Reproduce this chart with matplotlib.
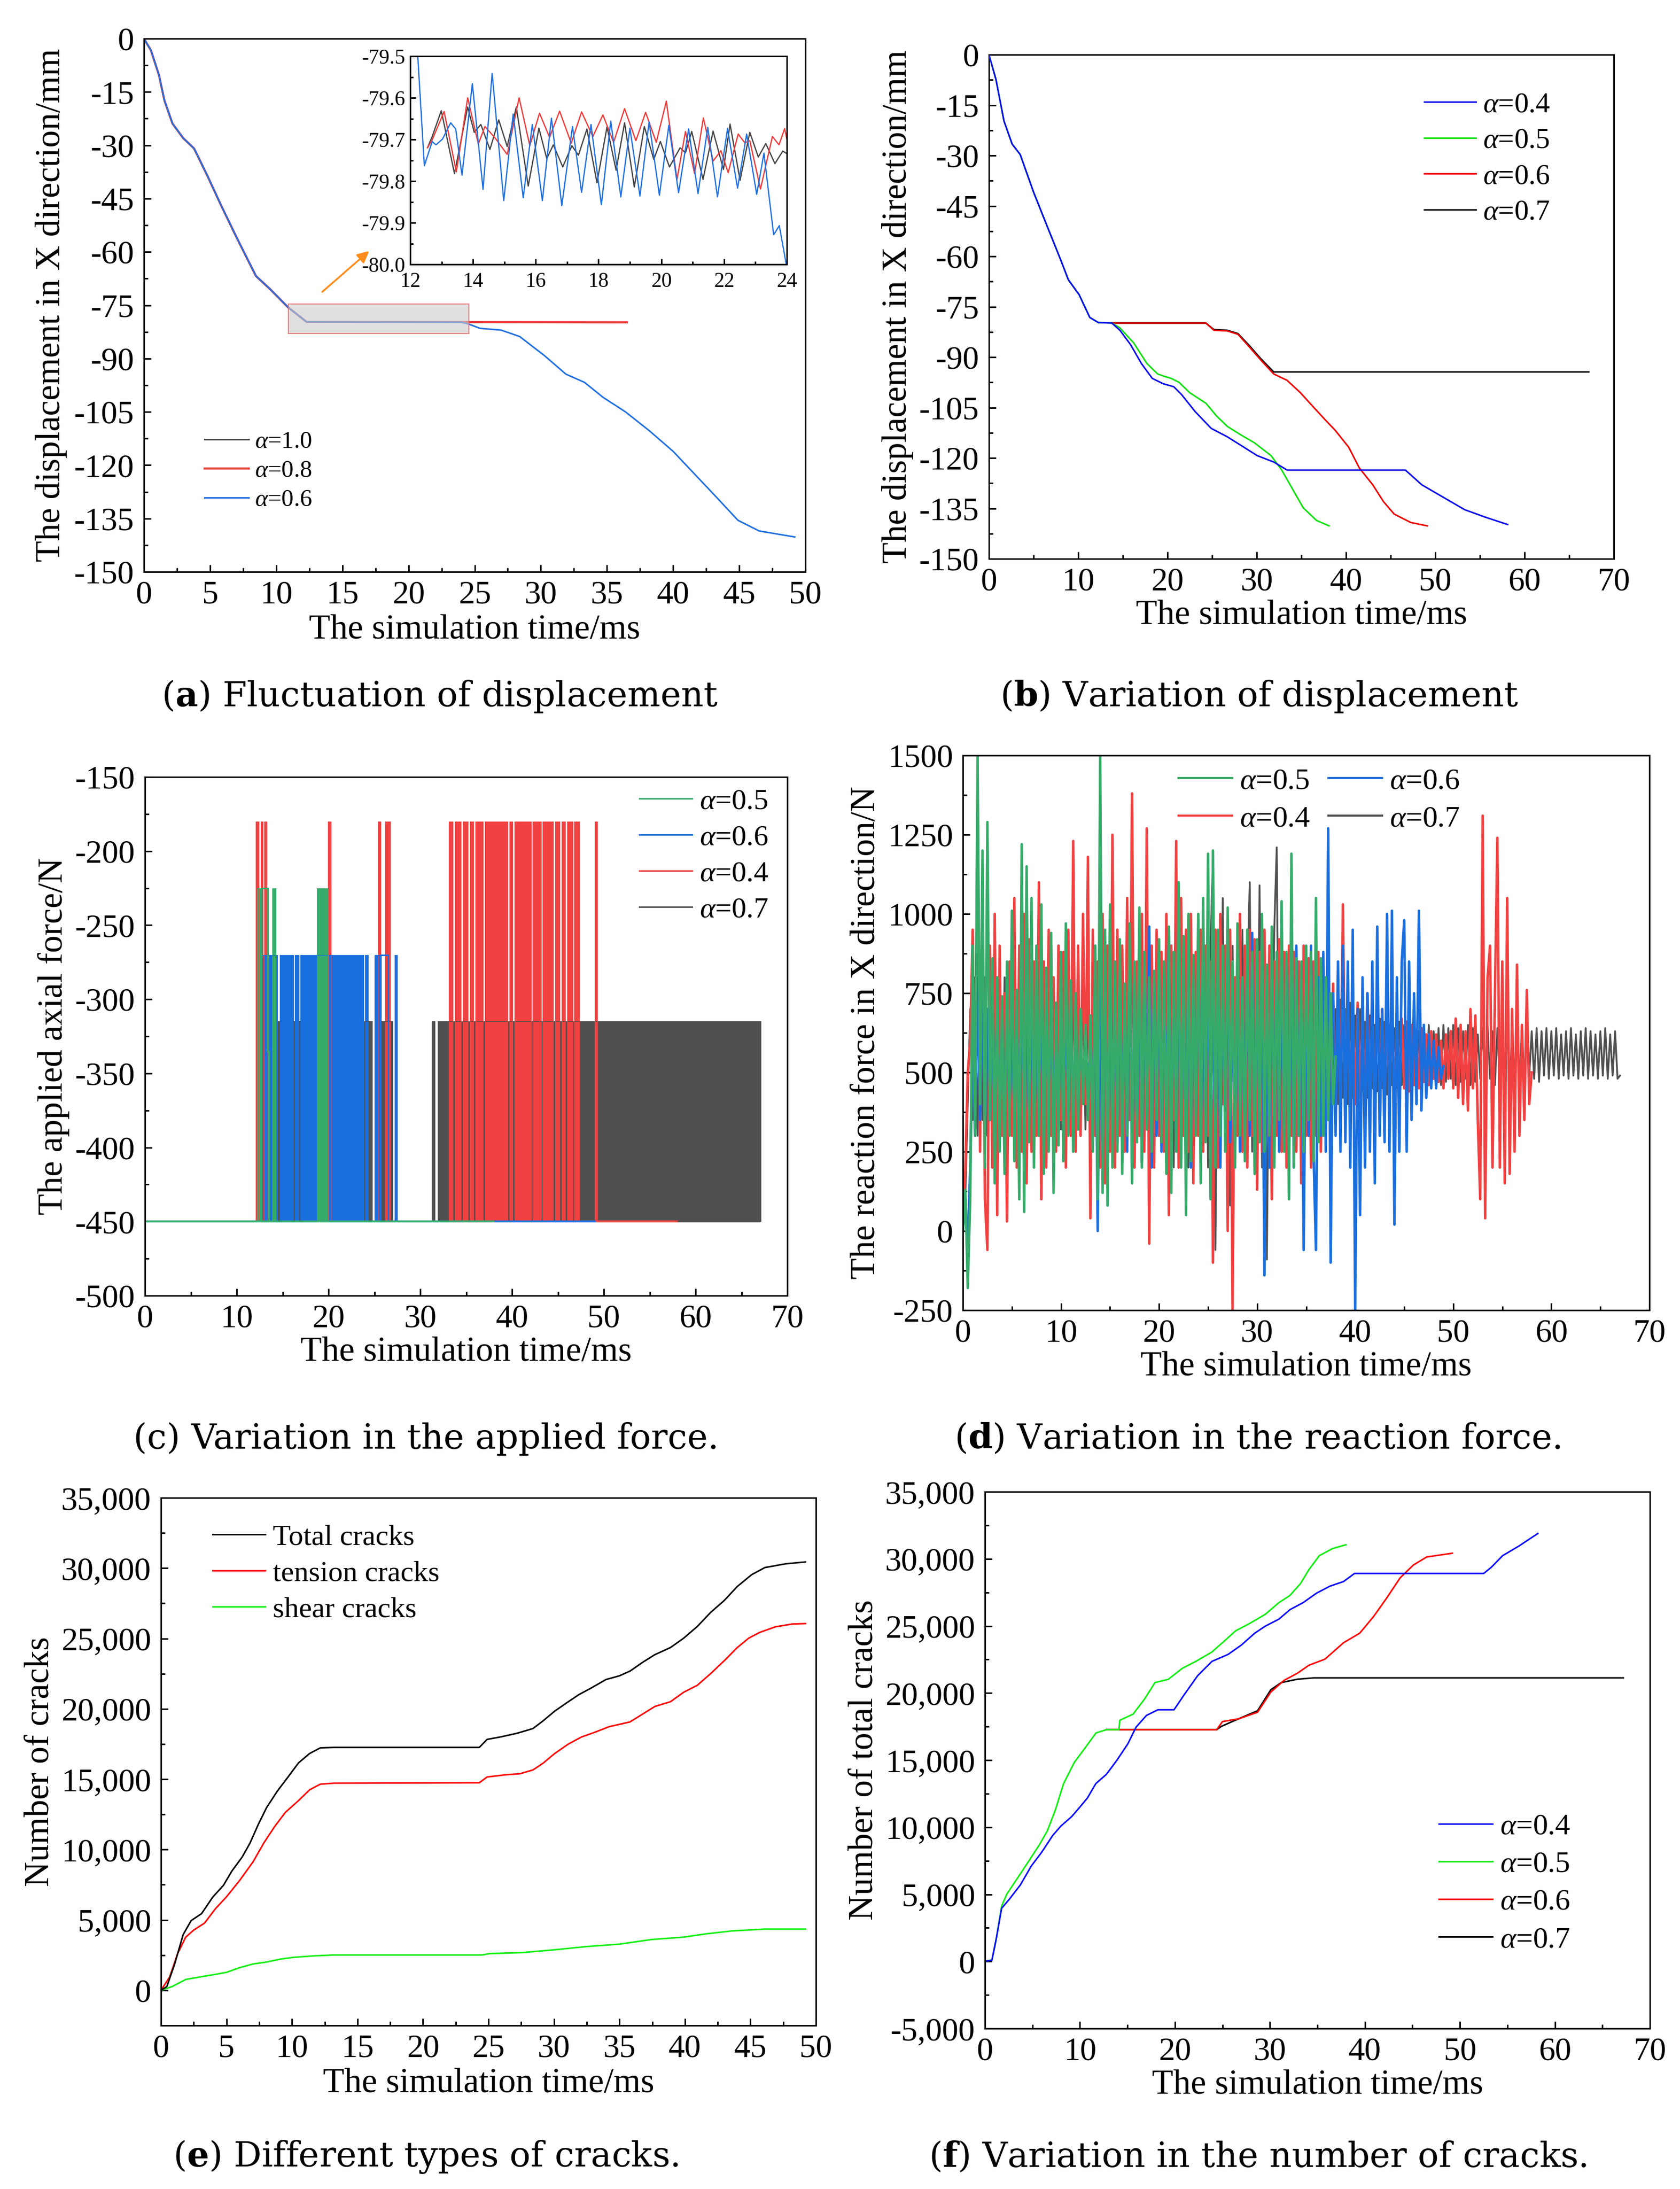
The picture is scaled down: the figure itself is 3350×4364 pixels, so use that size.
import numpy as np
import matplotlib
matplotlib.use("Agg")
import matplotlib.pyplot as plt
from matplotlib.patches import Rectangle
from matplotlib.ticker import MultipleLocator, FixedLocator, FuncFormatter

plt.rcParams["font.family"] = ["Liberation Serif", "DejaVu Serif"]
plt.rcParams["mathtext.fontset"] = "custom"
plt.rcParams["mathtext.rm"] = "Liberation Serif"
plt.rcParams["mathtext.it"] = "Liberation Serif:italic"
plt.rcParams["mathtext.bf"] = "DejaVu Serif:bold"
plt.rcParams["axes.unicode_minus"] = False

W, H, DPI = 3350, 4364, 100

# ---------------------------------------------------------------------------
# (a) displacement, alpha = 1.0 / 0.8 / 0.6 ----------------------------------
# ---------------------------------------------------------------------------
A_SHARED_T = [0, 0.53, 1.14, 1.55, 2.16, 2.97, 3.79, 4.8, 5.82, 7.04, 8.47, 9.49, 10.9, 12.3]
A_SHARED_Y = [0, -3.3, -10.3, -17.4, -23.9, -28.0, -30.9, -38.6, -46.8, -56.2, -66.8, -70.3, -75.6, -79.7]
A_BLUE_T = [24.0, 24.55, 25.4, 27.0, 28.4, 30.25, 31.9, 33.3, 34.7, 36.4, 38.2, 40.0, 41.65, 43.3, 44.9, 46.5, 49.2]
A_BLUE_Y = [-79.8, -80.3, -81.5, -82.0, -83.8, -89.1, -94.4, -96.7, -100.9, -105.0, -110.3, -116.1, -122.6,
            -129.1, -135.5, -138.5, -140.2]
A_RED_T = [36.5]
A_RED_Y = [-79.8]
A_BLACK_T = [24.2]
A_BLACK_Y = [-79.7]

INS_BLUE_T = [12.2, 12.45, 12.7, 12.82, 13.03, 13.29, 13.45, 13.65, 13.98, 14.32, 14.61, 14.98, 15.28, 15.6,
              15.89, 16.21, 16.5, 16.83, 17.17, 17.46, 17.76, 18.09, 18.39, 18.71, 19.0, 19.32, 19.61, 19.94,
              20.24, 20.55, 20.87, 21.17, 21.48, 21.79, 22.11, 22.43, 22.72, 23.04, 23.27, 23.58, 23.76, 23.98]
INS_BLUE_Y = [-79.45, -79.763, -79.705, -79.713, -79.699, -79.66, -79.675, -79.786, -79.566, -79.82, -79.541,
              -79.847, -79.639, -79.84, -79.664, -79.847, -79.649, -79.859, -79.669, -79.827, -79.664, -79.857,
              -79.656, -79.838, -79.673, -79.836, -79.658, -79.834, -79.666, -79.828, -79.675, -79.83, -79.671,
              -79.838, -79.674, -79.817, -79.687, -79.832, -79.733, -79.929, -79.907, -80.0]
INS_RED_T = [12.55, 12.7, 13.08, 13.47, 13.83, 14.17, 14.38, 14.71, 15.09, 15.47, 15.81, 16.12, 16.44, 16.76,
             17.13, 17.46, 17.82, 18.14, 18.48, 18.83, 19.19, 19.5, 19.84, 20.16, 20.5, 20.77, 21.06, 21.34,
             21.65, 21.9, 22.13, 22.45, 22.66, 22.82, 23.16, 23.54, 23.75, 23.93, 24.0]
INS_RED_Y = [-79.72, -79.701, -79.633, -79.778, -79.6, -79.711, -79.669, -79.697, -79.736, -79.6, -79.715,
             -79.637, -79.695, -79.632, -79.709, -79.634, -79.693, -79.641, -79.707, -79.626, -79.703, -79.635,
             -79.707, -79.608, -79.796, -79.681, -79.782, -79.648, -79.752, -79.727, -79.78, -79.687, -79.708,
             -79.703, -79.819, -79.693, -79.713, -79.674, -79.70]
INS_BLACK_T = [12.55, 12.7, 12.99, 13.41, 13.83, 14.04, 14.25, 14.54, 14.82, 15.09, 15.38, 15.76, 16.1, 16.35,
               16.56, 16.86, 17.15, 17.36, 17.63, 17.95, 18.27, 18.56, 18.83, 19.14, 19.46, 19.76, 19.97, 20.26,
               20.6, 20.77, 20.97, 21.33, 21.65, 21.98, 22.19, 22.51, 22.82, 23.09, 23.33, 23.62, 23.87, 24.0]
INS_BLACK_Y = [-79.72, -79.693, -79.631, -79.782, -79.622, -79.683, -79.664, -79.724, -79.653, -79.717, -79.622,
               -79.812, -79.673, -79.746, -79.713, -79.766, -79.715, -79.738, -79.675, -79.804, -79.67, -79.774,
               -79.66, -79.814, -79.669, -79.748, -79.705, -79.766, -79.72, -79.732, -79.681, -79.796, -79.68,
               -79.772, -79.663, -79.798, -79.683, -79.742, -79.71, -79.758, -79.728, -79.734]

# ---------------------------------------------------------------------------
# (b) displacement, alpha = 0.4 .. 0.7 ---------------------------------------
# ---------------------------------------------------------------------------
B_SHARED_T = [0.0, 0.78, 1.69, 2.6, 3.5, 5.0, 6.5, 8.0, 8.9, 10.1, 11.3, 12.25, 13.76]
B_SHARED_Y = [0, -7.3, -19.8, -26.6, -29.7, -40.9, -50.9, -60.8, -67.0, -71.4, -78.2, -79.7, -79.85]
B_BLUE_T = [14.67, 15.87, 17.08, 18.29, 19.5, 20.7, 21.6, 23.1, 24.9, 26.7, 28.2, 30.05, 31.9, 33.4, 46.65,
            48.5, 50.9, 53.3, 55.7, 58.1]
B_BLUE_Y = [-82.0, -86.3, -91.9, -96.3, -97.9, -98.8, -101.2, -106.2, -111.2, -113.7, -116.2, -119.3, -121.2,
            -123.6, -123.6, -128.0, -131.7, -135.4, -137.7, -139.8]
B_GREEN_T = [14.67, 16.2, 17.7, 18.9, 19.5, 20.4, 21.3, 22.5, 24.3, 25.5, 26.7, 28.2, 29.75, 31.6, 32.8, 34.0,
             35.2, 36.7, 38.1]
B_GREEN_Y = [-81.3, -85.7, -91.9, -95.0, -95.6, -96.3, -97.5, -100.6, -103.7, -107.5, -110.6, -113.1, -115.5,
             -119.3, -123.6, -129.2, -134.8, -138.6, -140.2]
B_RED_T = [13.76, 24.3, 25.2, 26.7, 27.9, 29.15, 30.4, 31.9, 33.4, 34.9, 36.4, 37.9, 38.8, 40.3, 41.5, 43.0,
           44.2, 45.4, 47.25, 49.1]
B_RED_Y = [-79.85, -79.85, -82.0, -82.2, -83.2, -86.9, -90.7, -95.0, -96.9, -100.6, -105.0, -109.3, -111.8,
           -116.8, -123.0, -128.0, -133.0, -136.7, -139.2, -140.2]
B_BLACK_T = [13.76, 24.3, 25.2, 26.7, 27.9, 29.15, 30.4, 31.9, 32.5, 67.2]
B_BLACK_Y = [-79.85, -79.85, -81.8, -82.0, -83.0, -86.5, -90.3, -94.4, -94.4, -94.4]

# ---------------------------------------------------------------------------
# (c) applied axial force: base level, pulse level, pulse bursts -------------
# ---------------------------------------------------------------------------
C_BASE = -450
C_LEVEL = {"0.5": -225, "0.6": -270, "0.4": -180, "0.7": -315}
C_END = {"0.5": 38.0, "0.6": 49.0, "0.4": 58.0, "0.7": 67.0}
C_BURSTS = {
    "0.7": [(14.5, 14.7), (16.2, 16.3), (16.8, 16.9), (23.9, 24.75), (25.8, 27.0), (31.25, 31.6), (31.9, 67.1)],
    "0.4": [(12.08, 12.4), (12.65, 12.82), (13.0, 13.3), (19.95, 20.3), (25.4, 25.7), (26.2, 26.7),
            (33.1, 33.55), (33.75, 34.45), (34.65, 35.2), (35.4, 35.8), (36.0, 36.85), (37.05, 39.5),
            (39.7, 40.05), (40.25, 42.05), (42.25, 43.15), (43.35, 44.5), (44.7, 45.2), (45.4, 45.8),
            (46.0, 46.6), (46.8, 47.3), (49.0, 49.3)],
    "0.6": [(12.7, 14.45), (14.7, 16.15), (16.35, 16.75), (16.95, 23.85), (24.0, 24.3), (25.0, 25.7), (27.2, 27.5)],
    "0.5": [(12.25, 12.7), (13.9, 14.25), (18.75, 20.0)],
}
C_OUTLINE_T = {"0.6": [25.7, 25.7, 26.5, 26.5], "0.5": [12.7, 12.7, 13.4, 13.4, 13.5, 13.5]}
C_OUTLINE_Y = {"0.6": [-450, -270, -270, -450], "0.5": [-450, -225, -225, -335, -335, -450]}

# ---------------------------------------------------------------------------
# (d) reaction force, samples every 0.25 ms, in units of 10 N ----------------
# ---------------------------------------------------------------------------
D_STEP = 0.25
D_GREEN = [
    0, 13, -18, 10, 90, 30, 150, 40, 120, 20, 129, 35, 86, 15, 80, 25, 74, 18, 85, 30,
    101, 22, 76, 10, 122, 6, 115, 28, 105, 20, 90, 30, 103, 18, 83, 25, 94, 12, 72, 27,
    88, 22, 97, 30, 79, 25, 75, 32, 70, 40, 65, 35, 68, 25, 90, 10, 150, 12, 95, 8,
    103, 20, 85, 25, 92, 18, 78, 30, 97, 15, 85, 28, 102, 20, 88, 32, 80, 25, 82, 35,
    92, 28, 85, 18, 96, 12, 88, 25, 110, 20, 93, 5, 100, 22, 87, 30, 100, 15, 105, 28,
    119, 10, 120, 20, 95, 30, 90, 25, 102, 35, 85, 20, 97, 30, 80, 22, 95, 35, 88, 18,
    92, 28, 100, 25, 84, 30, 96, 20, 88, 35, 104, 25, 88, 10, 119, 20, 86, 30, 85, 25,
    90, 35, 88, 22, 105, 28, 86, 30, 80, 35, 75, 40, 55]
D_BLUE = [
    0, 10, -5, 20, 60, 30, 80, 35, 75, 30, 70, 35, 65, 30, 72, 35, 68, 32, 70, 38,
    66, 35, 70, 30, 72, 38, 66, 34, 70, 36, 68, 33, 72, 35, 65, 38, 70, 34, 66, 40,
    64, 38, 68, 36, 62, 42, 60, 45, 58, 48, 56, 50, 55, 40, 80, 0, 85, 20, 78, 25,
    82, 30, 75, 28, 80, 35, 70, 25, 90, 20, 78, 30, 85, 22, 75, 35, 96, 20, 82, 30,
    88, 25, 80, 35, 95, 22, 78, 30, 85, 28, 74, 32, 88, 20, 80, 35, 92, 25, 70, 30,
    86, 30, 75, 25, 82, 20, 78, 35, 95, 28, 72, 30, 84, 25, 80, 32, 88, 30, 94, 25,
    80, 30, 88, -14, 75, 20, 85, 35, 82, 25, 78, 30, 86, 28, 80, 20, 90, 30, 84, -6,
    85, 30, 90, 25, -6, 80, 30, 88, 25, 127, -10, 75, 30, 85, 25, 90, 28, 85, 20, 95,
    -25, 70, 5, 80, 20, 75, 25, 85, 15, 96, 30, 70, 28, 100, 25, 101, 2, 80, 25, 85,
    98, 25, 85, 35, 75, 40, 101, 38, 65, 42, 62, 45, 60, 45, 58, 48, 52]
D_RED = [
    0, 20, 50, 60, 95, 30, 137, 25, 102, 10, -6, 90, 20, 100, 5, 90, 30, 75, 3, 85,
    30, 105, 20, 90, 25, 100, 15, 92, 25, 85, 30, 110, 10, 85, 20, 95, 30, 80, 25, 90,
    35, 88, 20, 95, 30, 123, 25, 90, 30, 100, 40, 118, 4, 95, 30, 85, 20, 100, 15, 90,
    25, 125, 20, 95, 30, 90, 25, 105, 35, 138, 20, 85, 30, 100, 25, 127, -4, 90, 20, 95,
    30, 88, 25, 100, 5, 90, 35, 123, 20, 105, 30, 95, 25, 100, 15, 88, 30, 95, 25, 90,
    30, 85, -10, 95, 20, 100, 40, 90, 0, 95, -25, 80, 30, 100, 25, 90, 20, 95, 30, 92,
    13, 88, 25, 95, 30, 90, 10, 85, 30, 92, 25, 88, 20, 90, 30, 88, 25, 85, 15, 90,
    30, 86, 20, 85, 30, 88, 25, 82, 35, 80, 30, 78, 35, 75, 40, 103, 35, 75, 40, 70,
    40, 72, 42, 70, 38, 75, 45, 68, 40, 72, 45, 70, 42, 66, 45, 68, 42, 65, 44, 67,
    45, 66, 44, 65, 46, 63, 45, 64, 47, 62, 46, 63, 48, 62, 47, 60, 45, 62, 48, 63,
    45, 67, 42, 65, 40, 63, 38, 70, 45, 68, 35, 10, 131, 4, 80, 90, 20, 75, 124, 20,
    85, 15, 105, 18, 70, 25, 84, 30, 65, 35, 76, 40, 50]
D_BLACK = [
    0, 10, 40, 70, 35, 80, 30, 75, 35, 80, 30, 78, 35, 72, 32, 75, 30, 80, 35, 70,
    30, 78, 35, 72, 32, 80, 30, 75, 35, 70, 30, 78, 32, 75, 35, 72, 30, 76, 34, 70,
    32, 75, 35, 72, 30, 78, 34, 70, 35, 76, 32, 72, 36, 70, 34, 75, 32, 72, 35, 70,
    30, 78, 35, 72, 32, 80, 30, 75, 35, 85, 30, 78, 32, 75, 35, 82, 30, 76, 34, 80,
    30, 85, 25, 90, 30, 82, 20, 95, 25, 88, 30, 85, 20, 90, 25, 80, 30, 92, 25, 85,
    20, 90, 118, -6, 80, 30, 105, 25, 80, 8, 90, 30, 85, 25, 95, 30, 80, 110, 25, 90,
    30, 109, 20, 85, -9, 80, 30, 95, 121, 30, 85, 35, 80, 40, 75, 35, 78, 40, 72, 38,
    75, 40, 72, 38, 76, 42, 70, 40, 74, 38, 72, 42, 70, 40, 73, 42, 70, 40, 72, 42,
    68, 42, 70, 44, 66, 42, 68, 45, 65, 44, 67, 45, 66, 43, 65, 46, 64, 45, 66, 46,
    65, 46, 64, 47, 65, 46, 63, 47, 64, 46, 65, 47, 63, 48, 64, 46, 65, 47, 64, 48,
    65, 46, 64, 47, 63, 48, 65, 46, 64, 47, 62, 48, 64, 47, 65, 48, 63, 46, 64, 47,
    63, 48, 64, 47, 62, 48, 64, 47, 63, 48, 64, 49, 63, 48, 64, 47, 63, 49, 64, 48,
    63, 49, 64, 48, 62, 49, 63, 48, 64, 49, 62, 48, 63, 49, 64, 48, 63, 49, 62, 48,
    63, 49, 64, 48, 62, 49, 63, 48, 49]

# ---------------------------------------------------------------------------
# (e) crack types --------------------------------------------------------------
# ---------------------------------------------------------------------------
E_TOTAL_T = [0, 0.45, 1.07, 1.69, 2.3, 3.1, 3.95, 4.77, 5.4, 6.2, 6.8, 7.44, 8.06, 8.88, 9.7, 10.5, 11.35, 12.17,
             13.2, 24.3, 24.9, 25.9, 27.2, 28.4, 29.2, 30.06, 31.1, 31.9, 32.9, 33.96, 35.0, 35.8, 36.84, 37.7,
             38.9, 39.9, 40.95, 41.98, 43.0, 44.0, 45.1, 46.1, 47.7, 49.2]
E_TOTAL_Y = [0, 270, 1940, 3950, 4950, 5450, 6620, 7460, 8460, 9470, 10470, 11810, 12980, 14150, 15160, 16160,
             16830, 17230, 17260, 17260, 17830, 18000, 18270, 18600, 19170, 19840, 20510, 21010, 21510, 22080,
             22350, 22680, 23350, 23850, 24360, 25020, 25860, 26870, 27700, 28700, 29540, 30040, 30310, 30440]
E_TENSION_T = [0, 0.66, 1.27, 1.89, 2.5, 3.33, 4.15, 4.98, 6.0, 7.03, 7.85, 8.68, 9.5, 10.5, 11.35, 12.17, 13.2,
               24.3, 24.9, 26.36, 27.4, 28.4, 29.2, 30.06, 31.1, 32.1, 33.1, 34.2, 35.8, 36.84, 37.7, 38.9, 39.9,
               40.95, 41.98, 43.0, 44.0, 44.86, 45.7, 46.9, 48.2, 49.2]
E_TENSION_Y = [0, 940, 2610, 3780, 4280, 4780, 5790, 6620, 7800, 9130, 10470, 11640, 12650, 13480, 14250, 14650,
               14720, 14750, 15160, 15320, 15390, 15660, 16160, 16830, 17500, 18000, 18330, 18730, 19070, 19670,
               20170, 20510, 21180, 21680, 22520, 23420, 24360, 25020, 25430, 25830, 26030, 26060]
E_SHEAR_T = [0, 0.86, 1.89, 2.92, 3.95, 4.98, 6.0, 7.03, 8.06, 9.09, 10.1, 11.55, 13.2, 24.5, 25.1, 27.6, 30.06,
             32.5, 35.0, 37.46, 39.9, 41.6, 43.6, 46.1, 49.2]
E_SHEAR_Y = [0, 270, 770, 940, 1100, 1270, 1610, 1870, 2010, 2210, 2340, 2440, 2510, 2510, 2610, 2680, 2880,
             3110, 3280, 3610, 3780, 4010, 4220, 4350, 4350]

# ---------------------------------------------------------------------------
# (f) total cracks for alpha = 0.4 .. 0.7 ------------------------------------
# ---------------------------------------------------------------------------
F_BLUE_T = [0, 0.74, 1.19, 1.76, 2.6, 3.74, 4.88, 6.0, 7.14, 8.0, 9.13, 9.98, 10.8, 11.67, 12.8, 13.9, 15.05, 15.9,
            17.0, 18.2, 19.9, 21.0, 22.4, 23.9, 25.6, 27.0, 28.4, 29.5, 30.95, 32.1, 33.5, 34.9, 36.3, 37.75, 38.9,
            52.5, 53.3, 54.5, 56.2, 58.2]
F_BLUE_Y = [0, 100, 1680, 3960, 4660, 5710, 7110, 8160, 9390, 10090, 10790, 11490, 12190, 13250, 13950, 15000,
            16220, 17450, 18330, 18750, 18750, 19900, 21300, 22360, 22880, 23580, 24460, 24980, 25510, 26210,
            26740, 27440, 27960, 28310, 28910, 28910, 29370, 30240, 30950, 31890]
F_GREEN_T = [0, 0.74, 1.19, 1.76, 2.3, 3.46, 4.6, 5.73, 6.58, 7.43, 8.28, 9.4, 10.5, 11.7, 12.8, 14.1, 14.2, 15.6,
             16.8, 17.9, 19.3, 20.75, 22.2, 23.9, 25.3, 26.4, 27.8, 29.5, 30.95, 32.1, 33.2, 34.1, 35.2, 36.6, 38.0]
F_GREEN_Y = [0, 100, 1680, 4130, 5010, 6240, 7460, 8690, 9740, 11320, 13250, 14820, 15870, 17030, 17270, 17270,
             17970, 18430, 19550, 20780, 21020, 21830, 22360, 23060, 23940, 24640, 25160, 25860, 26740, 27270,
             28140, 29190, 30240, 30770, 31050]
F_RED_T = [12.8, 24.4, 25.0, 26.7, 28.7, 30.1, 31.5, 32.9, 34.1, 35.8, 37.75, 39.45, 40.9, 42.3, 43.7, 45.1, 46.5, 49.2]
F_RED_Y = [17270, 17270, 17870, 18080, 18570, 20080, 20950, 21480, 22070, 22530, 23750, 24460, 25690, 27090,
           28580, 29540, 30140, 30420]
F_BLACK_T = [12.8, 24.4, 24.9, 26.7, 28.7, 30.1, 31.2, 32.9, 34.6, 67.2]
F_BLACK_Y = [17270, 17270, 17520, 18080, 18680, 20250, 20780, 21030, 21130, 21130]

XLABEL = "The simulation time/ms"
TICK_FS = 47
LABEL_FS = 50
LW = 2.2


def px_axes(fig, left, top, right, bottom):
    return fig.add_axes([left / W, 1 - bottom / H, (right - left) / W, (bottom - top) / H])


def style(ax, xlim, ylim, xmaj, xmin, ymaj, ymin, fs=TICK_FS, spine=2.2):
    ax.set_xlim(*xlim)
    ax.set_ylim(*ylim)
    ax.xaxis.set_major_locator(MultipleLocator(xmaj))
    ax.xaxis.set_minor_locator(MultipleLocator(xmin))
    ax.yaxis.set_major_locator(MultipleLocator(ymaj))
    ax.yaxis.set_minor_locator(MultipleLocator(ymin))
    ax.tick_params(which="both", direction="in", top=False, right=False, width=spine, labelsize=fs)
    ax.tick_params(which="major", length=10)
    ax.tick_params(which="minor", length=5.5)
    ax.tick_params(axis="x", which="major", pad=12)
    ax.tick_params(axis="y", which="major", pad=14)
    for s in ax.spines.values():
        s.set_linewidth(spine)


def alpha_label(v):
    return r"$\alpha$=" + v


def legend(ax, anchor, fs, ncol=1, spacing=0.3, **kw):
    return ax.legend(loc="upper left", bbox_to_anchor=anchor, frameon=False, fontsize=fs, ncol=ncol,
                     borderpad=0, borderaxespad=0, handlelength=1.8, handletextpad=0.25,
                     labelspacing=spacing, **kw)


comma = FuncFormatter(lambda v, p: f"{v:,.0f}")

fig = plt.figure(figsize=(W / DPI, H / DPI), dpi=DPI)

# ---- (a) -------------------------------------------------------------------
ax = px_axes(fig, 287, 77, 1606, 1140)
ax.plot(A_SHARED_T + A_BLACK_T, A_SHARED_Y + A_BLACK_Y, color="#444444", lw=LW, label=alpha_label("1.0"))
ax.plot(A_SHARED_T + A_RED_T, A_SHARED_Y + A_RED_Y, color="#ef3b3b", lw=LW * 1.4, label=alpha_label("0.8"))
ax.plot(A_SHARED_T + A_BLUE_T, A_SHARED_Y + A_BLUE_Y, color="#2070e0", lw=LW, label=alpha_label("0.6"))
ax.add_patch(Rectangle((10.9, -83.0), 13.65, 8.4, facecolor=(0.8, 0.8, 0.8, 0.6),
                       edgecolor=(0.94, 0.4, 0.4, 0.8), lw=1.5, zorder=3))
ax.annotate("", xy=(17.1, -59.5), xytext=(13.4, -71.5),
            arrowprops=dict(arrowstyle="-|>", color="#ff8c1a", lw=2.5, mutation_scale=35))
style(ax, (0, 50), (-150, 0), 5, 2.5, 15, 7.5)
ax.set_xlabel(XLABEL, fontsize=LABEL_FS, labelpad=6)
ax.set_ylabel("The displacement in X direction/mm", fontsize=LABEL_FS, labelpad=10)
legend(ax, (0.092, 0.264), 35, spacing=0.28)

ins = px_axes(fig, 818, 112, 1569, 527)
ins.plot(INS_BLACK_T, INS_BLACK_Y, color="#444444", lw=1.8)
ins.plot(INS_RED_T, INS_RED_Y, color="#ef3b3b", lw=1.8)
ins.plot(INS_BLUE_T, INS_BLUE_Y, color="#2070e0", lw=1.8)
style(ins, (12, 24), (-80.0, -79.5), 2, 1, 0.1, 0.05, fs=30, spine=2.2)
ins.tick_params(which="major", length=8)
ins.tick_params(which="minor", length=4)
ins.tick_params(axis="x", which="major", pad=11)
ins.tick_params(axis="y", which="major", pad=7)
ins.yaxis.set_major_formatter(FuncFormatter(lambda v, p: f"{v:.1f}"))

# ---- (b) -------------------------------------------------------------------
ax = px_axes(fig, 1972, 109, 3218, 1114)
ax.plot(B_BLACK_T, B_BLACK_Y, color="#000000", lw=LW, zorder=2)
ax.plot(B_RED_T, B_RED_Y, color="#ee0000", lw=LW, zorder=3)
ax.plot(B_SHARED_T + B_GREEN_T, B_SHARED_Y + B_GREEN_Y, color="#11e011", lw=LW, zorder=4)
ax.plot(B_SHARED_T + B_BLUE_T, B_SHARED_Y + B_BLUE_Y, color="#0a0aee", lw=LW, zorder=5)
style(ax, (0, 70), (-150, 0), 10, 5, 15, 7.5)
ax.set_xlabel(XLABEL, fontsize=LABEL_FS, labelpad=4)
ax.set_ylabel("The displacement in X direction/mm", fontsize=LABEL_FS, labelpad=8)
hb = [plt.Line2D([], [], color=c, lw=LW) for c in ("#0a0aee", "#11e011", "#ee0000", "#000000")]
legend(ax, (0.697, 0.926), 41, spacing=0.34, handles=hb,
       labels=[alpha_label(v) for v in ("0.4", "0.5", "0.6", "0.7")])

# ---- (c) -------------------------------------------------------------------
C_COLORS = {"0.5": "#36ab6a", "0.6": "#1a6fdf", "0.4": "#f14141", "0.7": "#505050"}
ax = px_axes(fig, 289, 1549, 1570, 2583)
for k in ("0.7", "0.4", "0.6", "0.5"):
    col = C_COLORS[k]
    ax.plot([0, C_END[k]], [C_BASE, C_BASE], color=col, lw=LW * 1.2)
    for s, e in C_BURSTS[k]:
        ax.fill_between([s, e], C_BASE, C_LEVEL[k], color=col, lw=0)
        ax.plot([s, s, e, e], [C_BASE, C_LEVEL[k], C_LEVEL[k], C_BASE], color=col, lw=0.9)
    if k in C_OUTLINE_T:
        ax.plot(C_OUTLINE_T[k], C_OUTLINE_Y[k], color=col, lw=LW)
style(ax, (0, 70), (-500, -150), 10, 5, 50, 25)
ax.set_xlabel(XLABEL, fontsize=LABEL_FS, labelpad=4)
ax.set_ylabel("The applied axial force/N", fontsize=LABEL_FS, labelpad=8)
hc = [plt.Line2D([], [], color=C_COLORS[k], lw=LW) for k in ("0.5", "0.6", "0.4", "0.7")]
legend(ax, (0.770, 0.978), 42, spacing=0.33, handles=hc,
       labels=[alpha_label(v) for v in ("0.5", "0.6", "0.4", "0.7")])

# ---- (d) -------------------------------------------------------------------
ax = px_axes(fig, 1920, 1506, 3289, 2612)
D_SERIES = {"0.7": D_BLACK, "0.4": D_RED, "0.6": D_BLUE, "0.5": D_GREEN}
for k in ("0.7", "0.4", "0.6", "0.5"):
    v = np.array(D_SERIES[k], dtype=float) * 10
    t = np.arange(len(v)) * D_STEP
    ax.plot(t, v, color=C_COLORS[k], lw=2.6 if k == "0.7" else 3.6)
style(ax, (0, 70), (-250, 1500), 10, 5, 250, 125)
ax.set_xlabel(XLABEL, fontsize=LABEL_FS, labelpad=4)
ax.set_ylabel("The reaction force in X direction/N", fontsize=LABEL_FS, labelpad=8)
hd = [plt.Line2D([], [], color=C_COLORS[k], lw=3.0) for k in ("0.5", "0.4", "0.6", "0.7")]
legend(ax, (0.314, 0.978), 43, ncol=2, spacing=0.34, handles=hd, columnspacing=0.6,
       labels=[alpha_label(v) for v in ("0.5", "0.4", "0.6", "0.7")])

# ---- (e) -------------------------------------------------------------------
ax = px_axes(fig, 321, 2986, 1627, 4038)
ax.plot(E_SHEAR_T, E_SHEAR_Y, color="#11ee11", lw=LW, label="shear cracks")
ax.plot(E_TENSION_T, E_TENSION_Y, color="#ff0000", lw=LW, label="tension cracks")
ax.plot(E_TOTAL_T, E_TOTAL_Y, color="#000000", lw=LW, label="Total cracks")
style(ax, (0, 50), (-2500, 35000), 5, 2.5, 5000, 2500)
ax.yaxis.set_major_locator(FixedLocator(list(range(0, 35001, 5000))))
ax.yaxis.set_major_formatter(comma)
ax.set_xlabel(XLABEL, fontsize=LABEL_FS, labelpad=6)
ax.set_ylabel("Number of cracks", fontsize=LABEL_FS, labelpad=8)
h, l = ax.get_legend_handles_labels()
legend(ax, (0.079, 0.95), 42, spacing=0.33, handles=h[::-1], labels=l[::-1])

# ---- (f) -------------------------------------------------------------------
ax = px_axes(fig, 1964, 2974, 3290, 4044)
ax.plot(F_BLACK_T, F_BLACK_Y, color="#000000", lw=LW)
ax.plot(F_RED_T, F_RED_Y, color="#ff0000", lw=LW)
ax.plot(F_GREEN_T, F_GREEN_Y, color="#11ee11", lw=LW)
ax.plot(F_BLUE_T, F_BLUE_Y, color="#0a0aff", lw=LW)
style(ax, (0, 70), (-5000, 35000), 10, 5, 5000, 2500)
ax.yaxis.set_major_formatter(comma)
ax.set_xlabel(XLABEL, fontsize=LABEL_FS, labelpad=4)
ax.set_ylabel("Number of total cracks", fontsize=LABEL_FS, labelpad=8)
hf = [plt.Line2D([], [], color=c, lw=LW) for c in ("#0a0aff", "#11ee11", "#ff0000", "#000000")]
legend(ax, (0.6825, 0.401), 43, spacing=0.34, handles=hf,
       labels=[alpha_label(v) for v in ("0.4", "0.5", "0.6", "0.7")])

# ---- captions --------------------------------------------------------------
CAPTIONS = [
    (877, 1388, r"($\mathbf{a}$) Fluctuation of displacement"),
    (2511, 1388, r"($\mathbf{b}$) Variation of displacement"),
    (850, 2868, "(c) Variation in the applied force."),
    (2508, 2868, r"($\mathbf{d}$) Variation in the reaction force."),
    (849, 4300, r"($\mathbf{e}$) Different types of cracks."),
    (2508, 4300, r"($\mathbf{f}$) Variation in the number of cracks."),
]
for x, y, s in CAPTIONS:
    fig.text(x / W, 1 - y / H, s, ha="center", va="center", fontsize=50, family="DejaVu Serif")

fig.savefig("out.png", dpi=DPI)
